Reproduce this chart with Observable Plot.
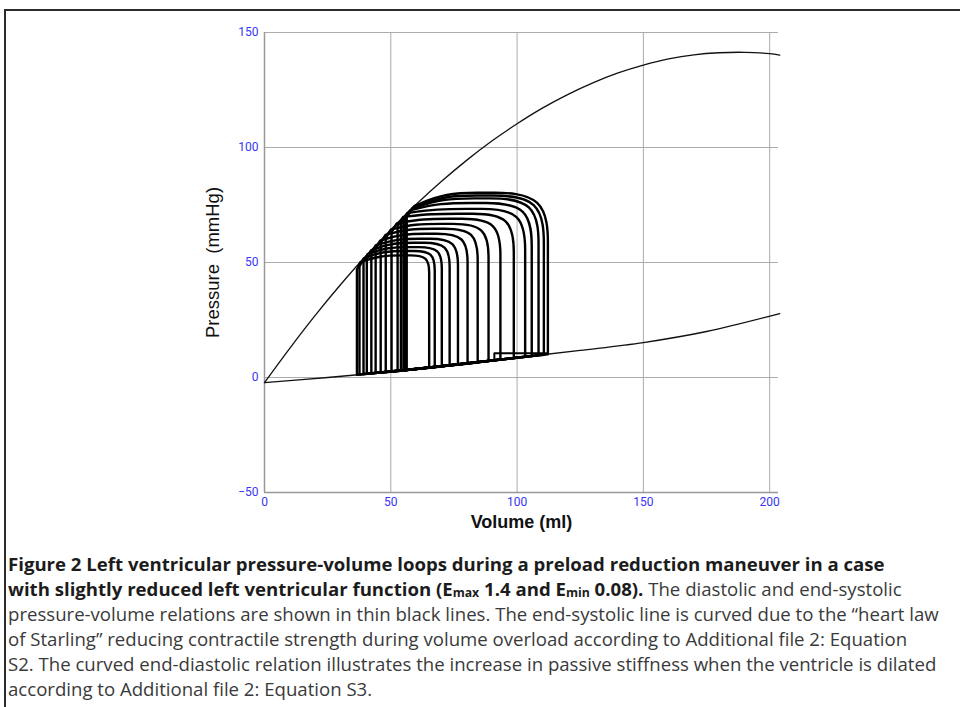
<!DOCTYPE html>
<html><head><meta charset="utf-8">
<script src="https://cdn.jsdelivr.net/npm/d3@7"></script>
<script src="https://cdn.jsdelivr.net/npm/@observablehq/plot@0.6"></script>
<style>
html,body{margin:0;padding:0;background:#fff;}
body{width:960px;height:707px;position:relative;overflow:hidden;}
#frame{position:absolute;left:4px;top:9px;width:970px;height:720px;border-left:2px solid #2b2b2b;border-top:2px solid #2b2b2b;}
#chart{position:absolute;left:0;top:0;}
#caption{position:absolute;left:8px;top:551px;font-family:"Open Sans";font-size:18.6px;line-height:25px;color:#3a3a3a;white-space:nowrap;}
#caption b{color:#1c1c1c;font-weight:700;}
#caption sub{font-size:0.66em;vertical-align:-0.12em;line-height:0;}
</style></head><body>
<div id="frame"></div>
<div id="chart"></div>
<div id="caption"><b>Figure 2 Left ventricular pressure-volume loops during a preload reduction maneuver in a case</b><br><b>with slightly reduced left ventricular function (E<sub>max</sub> 1.4 and E<sub>min</sub> 0.08).</b> The diastolic and end-systolic<br>pressure-volume relations are shown in thin black lines. The end-systolic line is curved due to the “heart law<br>of Starling” reducing contractile strength during volume overload according to Additional file 2: Equation<br>S2. The curved end-diastolic relation illustrates the increase in passive stiffness when the ventricle is dilated<br>according to Additional file 2: Equation S3.</div>
<script>
// axis ticks
const xTicks = [0, 50, 100, 150, 200];
const yTicks = [-50, 0, 50, 100, 150];

// end-systolic pressure-volume relation (curved)
const espvrVol = [0, 10, 20, 30, 40, 50, 60, 70, 80, 90, 100, 110, 120, 130, 140, 150, 160, 170, 180, 190, 200, 204];
const espvrP   = [-2.2, 12.7, 26.9, 40.2, 52.7, 64.3, 75.2, 85.2, 94.4, 102.8, 110.3, 117.1, 123.0, 128.1, 132.4, 135.8, 138.5, 140.3, 141.2, 141.4, 140.8, 140.2];

// end-diastolic pressure-volume relation
const edpvrVol = [0, 25, 50, 75, 100, 125, 150, 175, 204];
const edpvrP   = [-2.2, 0.0, 2.5, 5.4, 8.6, 11.8, 15.2, 20.0, 27.8];

// pressure-volume loops (smallest to largest)
const loopESV        = [36.6, 37.6, 39.2, 40.5, 42.3, 44.0, 46.0, 48.0, 50.3, 52.7, 54.0, 55.0, 55.6, 56.0, 56.3];
const loopEDV        = [65.2, 67.4, 70.2, 73.3, 76.6, 80.4, 84.4, 88.7, 93.4, 98.7, 103.2, 105.8, 108.5, 110.6, 112.2];
const loopEDPLeft    = [1.2, 1.3, 1.5, 1.6, 1.8, 2.0, 2.1, 2.3, 2.5, 2.8, 3.0, 3.1, 3.2, 3.2, 3.2];
const loopEDPRight   = [4.2, 4.5, 4.8, 5.2, 5.6, 6.1, 6.5, 7.1, 7.8, 8.4, 9.0, 9.3, 9.7, 9.9, 10.1];
const loopShoulder   = [44.0, 44.8, 45.4, 46.0, 46.5, 47.5, 48.5, 49.3, 50.2, 51.2, 52.0, 53.3, 54.0, 54.0, 54.0];
const loopPeak       = [53.1, 55.0, 56.7, 58.6, 60.3, 62.5, 64.7, 66.8, 69.0, 71.2, 73.3, 75.9, 77.9, 79.1, 80.3];
const loopCrestVol   = [56.5, 57.6, 59.2, 61.1, 63.2, 65.8, 68.6, 71.7, 75.2, 79.2, 82.5, 83.9, 85.4, 86.4, 86.8];
const loopTopCtrlVol = [45.7, 46.9, 48.6, 50.2, 52.2, 54.4, 56.9, 59.5, 62.4, 65.6, 68.0, 69.3, 70.4, 71.2, 71.7];
const loopESVol      = [38.0, 39.2, 40.8, 42.2, 44.0, 45.8, 47.9, 50.0, 52.4, 54.9, 56.5, 57.6, 58.4, 59.0, 59.4];
const loopESP        = [50.2, 51.7, 53.6, 55.3, 57.4, 59.5, 62.0, 64.3, 67.0, 69.8, 71.5, 72.7, 73.5, 74.1, 74.6];
const loopLeftTop    = [47.0, 48.2, 50.2, 51.8, 53.9, 55.9, 58.3, 60.5, 63.2, 65.8, 67.2, 68.3, 69.0, 69.4, 69.7];

// first-beat filling step near the bottom right
const stepVol = [91.0, 91.0, 111.6];
const stepP   = [7.6, 10.5, 10.5];

// build tables
const espvr = espvrVol.map((v, i) => ({v, p: espvrP[i]}));
const edpvr = edpvrVol.map((v, i) => ({v, p: edpvrP[i]}));
const step = stepVol.map((v, i) => ({v, p: stepP[i]}));
const loopRows = [];
loopESV.forEach((esv, i) => {
  const edv = loopEDV[i];
  const ctrl = [
    [esv, loopEDPLeft[i], 3],
    [edv, loopEDPRight[i], 3],
    [edv, loopShoulder[i], 3],
    [edv, loopPeak[i], 1],
    [loopCrestVol[i], loopPeak[i], 3],
    [loopTopCtrlVol[i], loopPeak[i], 1],
    [loopESVol[i], loopESP[i], 3],
    [esv, loopLeftTop[i], 3],
    [esv, loopEDPLeft[i], 3]
  ];
  ctrl.forEach(([v, p, n]) => { for (let k = 0; k < n; k++) loopRows.push({loop: i, v, p}); });
});

const chart = Plot.plot({
  width: 960,
  height: 540,
  marginLeft: 264,
  marginRight: 182,
  marginTop: 32,
  marginBottom: 48,
  style: {background: "transparent", fontFamily: "Roboto, 'Liberation Sans', sans-serif", fontSize: "12px", overflow: "visible"},
  x: {domain: [0, 203.5], label: null},
  y: {domain: [-50, 150], label: null},
  marks: [
    Plot.gridX(xTicks, {stroke: "#ababab", strokeOpacity: 1, strokeWidth: 1}),
    Plot.gridY(yTicks, {stroke: "#ababab", strokeOpacity: 1, strokeWidth: 1}),
    Plot.ruleX([0], {stroke: "#999", strokeWidth: 1.5}),
    Plot.ruleY([-50], {stroke: "#999", strokeWidth: 1.5}),
    Plot.axisX(xTicks, {tickSize: 0, tickPadding: 5, color: "#3535f5", label: null}),
    Plot.axisY(yTicks, {tickSize: 0, tickPadding: 6, color: "#3535f5", label: null}),
    Plot.line(edpvr, {x: "v", y: "p", stroke: "#111", strokeWidth: 1.3, curve: "catmull-rom"}),
    Plot.line(espvr, {x: "v", y: "p", stroke: "#111", strokeWidth: 1.3, curve: "catmull-rom"}),
    Plot.line(step, {x: "v", y: "p", stroke: "#000", strokeWidth: 2}),
    Plot.line(loopRows, {x: "v", y: "p", z: "loop", stroke: "#000", strokeWidth: 2.4, curve: "basis", strokeLinejoin: "round"}),
    Plot.text(["Volume (ml)"], {frameAnchor: "bottom", dy: 30, lineAnchor: "middle", fontSize: 18, fontWeight: "bold", fill: "#111", fontFamily: "'Liberation Sans', Arial, sans-serif"}),
    Plot.text(["Pressure  (mmHg)"], {frameAnchor: "left", dx: -51, rotate: -90, textAnchor: "middle", lineAnchor: "middle", fontSize: 18.5, fill: "#111", fontFamily: "'Liberation Sans', Arial, sans-serif"})
  ]
});
document.getElementById("chart").appendChild(chart);
</script></body></html>
